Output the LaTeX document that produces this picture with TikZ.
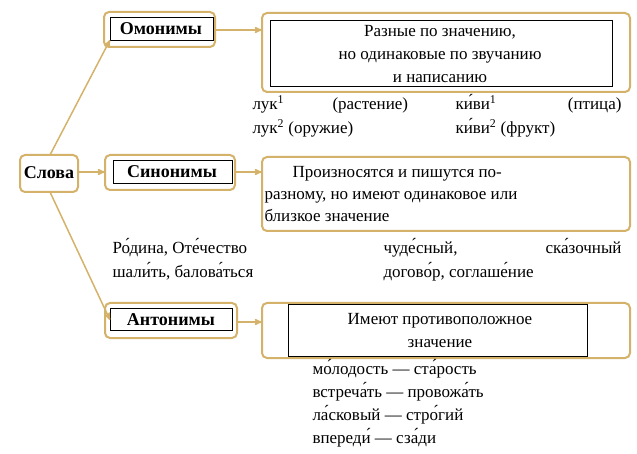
\documentclass[tikz,border=0pt]{standalone}
\usepackage{fontspec}
\setmainfont{Liberation Serif}
\usetikzlibrary{arrows}
\definecolor{gold}{RGB}{212,178,106}
\tikzset{
every picture/.style={line width=1pt},
outer/.style={draw=gold, line width=2pt, rounded corners=5pt, fill=white},
inner/.style={draw=black, line width=0.8pt},
lab/.style={font=\bfseries\fontsize{18}{20}\selectfont},
txt/.style={font=\fontsize{17}{23}\selectfont, inner sep=0pt},
link/.style={draw=gold, ->, >=stealth', line width=1.5pt}
}
\begin{document}
\begin{tikzpicture}[x=1pt,y=-1pt]
\useasboundingbox (0,0) rectangle (637,454);

% words box
\draw[outer] (20,155) rectangle (78,192);
\node[lab] (slova) at (49,173) {Слова};
\coordinate (slovaT) at (50,155);
\coordinate (slovaB) at (50,192);
\coordinate (slovaR) at (78,172);

% homonyms
\draw[outer] (104,12) rectangle (215,47);
\draw[inner] (110,17) rectangle (213,40);
\node[lab] (omon) at (161,29) {Омонимы};
\coordinate (omonL) at (110,40);
\coordinate (omonR) at (215,30);
\draw[outer] (262,13) rectangle (630,92);
\draw[inner] (270,20) rectangle (612,86);
\node[txt, align=center] (omonD) at (440,54) {Разные по значению,\\но одинаковые по звучанию\\и написанию};
\coordinate (omonDL) at (262,30);
\node[txt, anchor=base west] (ex1) at (252,110) {лук\textsuperscript{1}};
\node[txt, anchor=base west] (ex2) at (332,110) {(растение)};
\node[txt, anchor=base west] (ex3) at (455,110) {ки́ви\textsuperscript{1}};
\node[txt, anchor=base east] (ex4) at (622,110) {(птица)};
\node[txt, anchor=base west] (ex5) at (252,134) {лук\textsuperscript{2} (оружие)};
\node[txt, anchor=base west] (ex6) at (455,134) {ки́ви\textsuperscript{2} (фрукт)};

% synonyms
\draw[outer] (105,155) rectangle (235,190);
\draw[inner] (113,160) rectangle (232,183);
\node[lab] (sinon) at (172,172) {Синонимы};
\coordinate (sinonL) at (105,172);
\coordinate (sinonR) at (235,172);
\draw[outer] (262,157) rectangle (630,231);
\coordinate (sinonDL) at (262,172);
\node[txt, anchor=base west] (sin1) at (292,178) {Произносятся и пишутся по-};
\node[txt, anchor=base west] (sin2) at (264,200) {разному, но имеют одинаковое или};
\node[txt, anchor=base west] (sin3) at (264,222) {близкое значение};
\node[txt, anchor=base west] (sx1) at (112,254) {Ро́дина, Оте́чество};
\node[txt, anchor=base west] (sx2) at (112,278) {шали́ть, балова́ться};
\node[txt, anchor=base west] (sx3) at (383,254) {чуде́сный,};
\node[txt, anchor=base east] (sx4) at (622,254) {ска́зочный};
\node[txt, anchor=base west] (sx5) at (383,278) {догово́р, соглаше́ние};

% antonyms
\draw[outer] (105,303) rectangle (237,338);
\draw[inner] (110,308) rectangle (232,330);
\node[lab] (anton) at (171,320) {Антонимы};
\coordinate (antonL) at (110,320);
\coordinate (antonR) at (237,322);
\draw[outer] (262,303) rectangle (630,358);
\draw[inner] (288,304) rectangle (587,356);
\node[txt, align=center] (antonD) at (440,331) {Имеют противоположное\\значение};
\coordinate (antonDL) at (262,322);
\node[txt, anchor=north west, align=left] (ax) at (312,359) {мо́лодость — ста́рость\\встреча́ть — провожа́ть\\ла́сковый — стро́гий\\впереди́ — сза́ди};

% links
\draw[link] (slovaT) -- (omonL);
\draw[link] (slovaR) -- (sinonL);
\draw[link] (slovaB) -- (antonL);
\draw[link] (omonR) -- (omonDL);
\draw[link] (sinonR) -- (sinonDL);
\draw[link] (antonR) -- (antonDL);
\end{tikzpicture}
\end{document}
